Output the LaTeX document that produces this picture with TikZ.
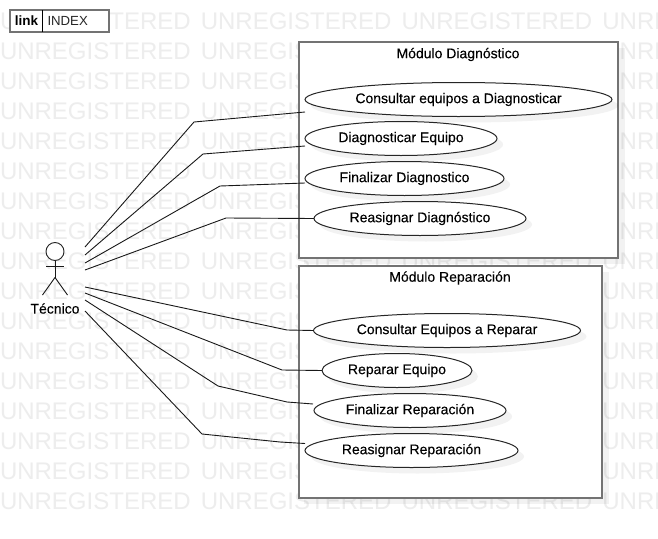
\documentclass[tikz,border=0pt]{standalone}
\usepackage{fontspec}
\setmainfont{Liberation Sans}
\newfontfamily\lab[FakeBold=0.12]{Liberation Sans}
\usetikzlibrary{shapes.geometric,calc}
\definecolor{wm}{gray}{0.93}
\definecolor{frameg}{gray}{0.45}
\tikzset{
  x=1pt,y=-1pt,
  every node/.style={inner sep=0pt,outer sep=0pt},
  frame/.style={draw=frameg,line width=2pt,fill=white},
  uc/.style={ellipse,draw=black!85,line width=1pt,fill=white,font=\lab\fontsize{14}{16}\selectfont,text=black,align=center},
  wmark/.style={text=wm,font=\fontsize{24}{28}\selectfont,anchor=west},
  shade/.style={fill=black,opacity=0.05,draw=none},
  assoc/.style={draw=black!90,line width=.9pt,line join=round},
  label/.style={font=\lab\fontsize{14}{16}\selectfont,text=black}
}
\begin{document}
\begin{tikzpicture}
\useasboundingbox (0,0) rectangle (658,538);
\fill[white] (0,0) rectangle (658,538);
% watermark
\foreach \r in {0,...,16}{
  \foreach \c in {0,...,3}{
    \node[wmark] at ({0+\c*200.8},{21.5+\r*30}) {UNREGISTERED};
  }
}
% link box
\node[draw=frameg,line width=2pt,fill=white,minimum width=98.5pt,minimum height=21.5pt] (linkbox) at (59.5,21) {};
\node[label,font=\fontsize{13.5}{16}\selectfont\bfseries] (linkword) at (26.5,21) {link};
\node[label,font=\fontsize{13.2}{16}\selectfont,text=black!85,anchor=west] (indexword) at (47.5,21) {INDEX};
\draw[black,line width=.8pt] ($(linkbox.north west)+(32.5,0)$) -- ($(linkbox.south west)+(32.5,0)$);
% frame shadows
\fill[shade] (304,48) rectangle (625,264);
\fill[shade] (304,272) rectangle (609,504);
% frames
\node[frame,minimum width=319.5pt,minimum height=215.5pt] (f1) at (458.25,149.75) {};
\node[frame,minimum width=303.5pt,minimum height=231.7pt] (f2) at (450.25,381.85) {};
\node[label] (t1) at (458,54.5) {Módulo Diagnóstico};
\node[label] (t2) at (450,278) {Módulo Reparación};
% use cases
\foreach \n/\cx/\cy/\w/\h/\txt in {
  e1/458.5/99.5/307/34/Consultar equipos a Diagnosticar,
  e2/401/138.5/192/34/Diagnosticar Equipo,
  e3/404.5/178.5/199/34/Finalizar Diagnostico,
  e4/420/218.5/212/34/Reasignar Diagnóstico,
  e5/447/330.5/267/34/Consultar Equipos a Reparar,
  e6/397/370.5/150/34/Reparar Equipo,
  e7/410/410.5/192/34/Finalizar Reparación,
  e8/411.5/450.5/213/34/Reasignar Reparación}{
  \fill[shade] (\cx+6,\cy+6) ellipse ({\w/2} and {\h/2});
  \node[uc,minimum width=\w pt,minimum height=\h pt] (\n) at (\cx,\cy) {\txt};
}
% actor
\node (actor) at (55,268) [minimum width=26pt,minimum height=54pt] {};
\node[circle,draw=black!85,line width=.9pt,fill=white,minimum size=18pt] (head) at (55,251.5) {};
\coordinate (hip) at (55,277.5);
\draw[assoc] (head.south) -- (hip);
\draw[assoc] (46,266.5) -- (64,266.5);
\draw[assoc] (42.5,295) -- (hip) -- (67.5,295);
\node[label] (tec) at (55,308.5) {Técnico};
% connectors
\draw[assoc] ($(actor.east)+(17,-21)$) -- (194,122) -- ($(e1.west)+(0,12.5)$);
\draw[assoc] ($(actor.east)+(17,-13)$) -- (203,154) -- ($(e2.west)+(0,7.5)$);
\draw[assoc] ($(actor.east)+(17,-5)$) -- (220,186) -- ($(e3.west)+(0,4.5)$);
\draw[assoc] ($(actor.east)+(17,2)$) -- (226,218) -- (e4.west);
\draw[assoc] ($(actor.east)+(17,19)$) -- (287,330) -- (e5.west);
\draw[assoc] ($(actor.east)+(17,25)$) -- (282,370) -- (e6.west);
\draw[assoc] ($(actor.east)+(17,32)$) -- (218,386) -- (287,402) -- ($(e7.west)+(-1,-6.5)$);
\draw[assoc] ($(actor.east)+(17,43)$) -- (202,434) -- (280,442) -- ($(e8.west)+(0,-7)$);
\end{tikzpicture}
\end{document}
